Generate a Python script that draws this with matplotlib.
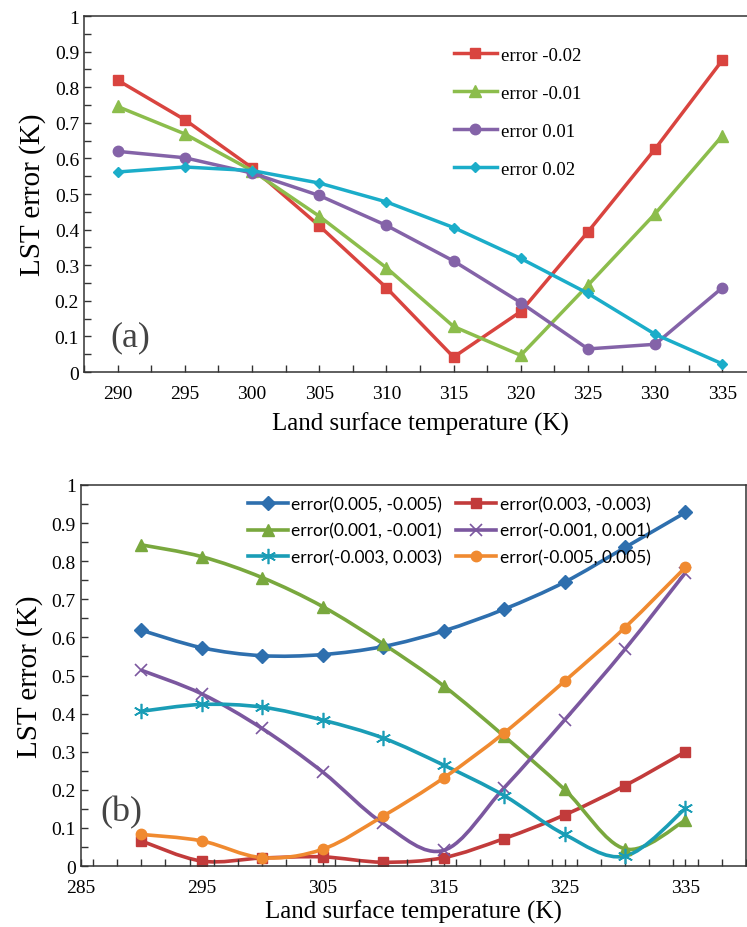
import numpy as np
import matplotlib.pyplot as plt
from matplotlib.path import Path
from matplotlib.patches import PathPatch
from matplotlib.lines import Line2D
from matplotlib.ticker import MultipleLocator, FuncFormatter

# ---- data, panel (a)
temps_a = [290, 295, 300, 305, 310, 315, 320, 325, 330, 335]
err_m002 = [0.820, 0.709, 0.574, 0.411, 0.237, 0.042, 0.170, 0.394, 0.627, 0.876]
err_m001 = [0.746, 0.669, 0.566, 0.438, 0.293, 0.128, 0.047, 0.244, 0.445, 0.664]
err_p001 = [0.620, 0.602, 0.559, 0.496, 0.412, 0.312, 0.195, 0.065, 0.078, 0.237]
err_p002 = [0.562, 0.576, 0.566, 0.531, 0.478, 0.406, 0.319, 0.221, 0.106, 0.023]
labels_a = ["error -0.02", "error -0.01", "error 0.01", "error 0.02"]

# ---- data, panel (b)
temps_b = [290, 295, 300, 305, 310, 315, 320, 325, 330, 335]
e_005 = [0.619, 0.573, 0.552, 0.555, 0.576, 0.617, 0.674, 0.745, 0.836, 0.928]
e_003 = [0.066, 0.013, 0.021, 0.024, 0.010, 0.022, 0.072, 0.134, 0.211, 0.300]
e_001 = [0.843, 0.812, 0.757, 0.681, 0.583, 0.473, 0.341, 0.201, 0.045, 0.120]
e_m001 = [0.514, 0.452, 0.361, 0.247, 0.112, 0.041, 0.205, 0.383, 0.569, 0.770]
e_m003 = [0.406, 0.424, 0.417, 0.383, 0.336, 0.265, 0.185, 0.083, 0.026, 0.151]
e_m005 = [0.083, 0.066, 0.022, 0.044, 0.131, 0.231, 0.349, 0.485, 0.626, 0.784]
labels_b = ["error(0.005, -0.005)", "error(0.003, -0.003)", "error(0.001, -0.001)",
            "error(-0.001, 0.001)", "error(-0.003, 0.003)", "error(-0.005, 0.005)"]

plt.rcParams["font.family"] = "Liberation Serif"


def smooth_path(x, y):
    # Excel-style smoothed line: Catmull-Rom segments as cubic Beziers
    pts = np.column_stack([x, y]).astype(float)
    n = len(pts)
    verts = [pts[0]]
    codes = [Path.MOVETO]
    for i in range(n - 1):
        p0 = pts[i - 1] if i > 0 else pts[i]
        p1 = pts[i]
        p2 = pts[i + 1]
        p3 = pts[i + 2] if i + 2 < n else pts[i + 1]
        verts += [p1 + (p2 - p0) / 6.0, p2 - (p3 - p1) / 6.0, p2]
        codes += [Path.CURVE4] * 3
    return Path(verts, codes)


def style_axes(ax):
    for s in ax.spines.values():
        s.set_color("#333333")
        s.set_linewidth(1.1)
    ax.tick_params(which="both", direction="in", length=5, width=1.0,
                   color="#333333", labelsize=14)
    ax.tick_params(axis="x", pad=9)
    ax.set_ylim(0, 1)
    ax.yaxis.set_major_locator(MultipleLocator(0.1))
    ax.yaxis.set_minor_locator(MultipleLocator(0.05))
    ax.yaxis.set_major_formatter(FuncFormatter(lambda v, p: f"{v:.1f}".rstrip("0").rstrip(".") if v > 0.001 else "0"))


fig = plt.figure(figsize=(7.47, 9.28), dpi=100)

# ---------------- panel (a)
ax1 = fig.add_axes([0.1124, 0.598, 0.8996, 0.3836])
style_axes(ax1)
ax1.set_xlim(287.5, 337.5)
ax1.set_xticks(temps_a)
ax1.set_xticks(np.arange(287.5, 338, 5), minor=True)

cols_a = ["#D9443F", "#8CBD4C", "#8463A8", "#1BADC9"]
marks_a = ["s", "^", "o", "D"]
msize_a = [7.5, 8, 7.5, 5]
for ys, c, m, ms, lab in zip([err_m002, err_m001, err_p001, err_p002], cols_a, marks_a, msize_a, labels_a):
    ax1.plot(temps_a, ys, color=c, lw=2.5, marker=m, ms=ms, label=lab)

ax1.legend(loc="upper left", bbox_to_anchor=(0.525, 0.962), frameon=False,
           fontsize=13.5, labelspacing=1.12, handlelength=2.3, handletextpad=0.2)
ax1.set_ylabel("LST error (K)", fontsize=21, labelpad=6)
ax1.set_xlabel("Land surface temperature (K)", fontsize=18, labelpad=7)
ax1.text(0.04, 0.075, "(a)", transform=ax1.transAxes, fontsize=26, color="#444444")

# ---------------- panel (b)
ax2 = fig.add_axes([0.108, 0.0657, 0.8906, 0.4106])
style_axes(ax2)
ax2.set_xlim(285, 340)
ax2.xaxis.set_major_locator(MultipleLocator(10))
ax2.xaxis.set_minor_locator(MultipleLocator(2))
ax2.set_xticks(np.arange(285, 340, 10))

cols_b = ["#2E6FAE", "#C23B3B", "#79A83E", "#7B579F", "#1A9DB6", "#F08A30"]
marks_b = ["D", "s", "^", "x", (6, 2, 0), "o"]
msize_b = [7, 7.5, 8.5, 8, 11, 7.5]
mew_b = [1, 1, 1, 1.2, 1.2, 1]
series_b = [e_005, e_003, e_001, e_m001, e_m003, e_m005]
handles = []
for ys, c, m, ms, mw in zip(series_b, cols_b, marks_b, msize_b, mew_b):
    ax2.add_patch(PathPatch(smooth_path(temps_b, ys), fill=False, edgecolor=c, lw=2.6))
    ax2.plot(temps_b, ys, ls="none", color=c, marker=m, ms=ms, mew=mw)
    handles.append(Line2D([], [], color=c, lw=2.6, marker=m, ms=ms, mew=mw))

# legend reads row by row in the original, matplotlib fills columns first
order = [0, 2, 4, 1, 3, 5]
ax2.legend([handles[i] for i in order], [labels_b[i] for i in order], ncol=2,
           loc="upper left", bbox_to_anchor=(0.228, 1.012), frameon=False,
           prop={"family": "Lato", "size": 12.5}, labelspacing=0.6,
           handlelength=2.3, handletextpad=0.2, columnspacing=0.8)
ax2.set_ylabel("LST error (K)", fontsize=21, labelpad=6)
ax2.set_xlabel("Land surface temperature (K)", fontsize=18, labelpad=3)
ax2.text(0.03, 0.12, "(b)", transform=ax2.transAxes, fontsize=26, color="#444444")

fig.savefig("out.png", dpi=100)
